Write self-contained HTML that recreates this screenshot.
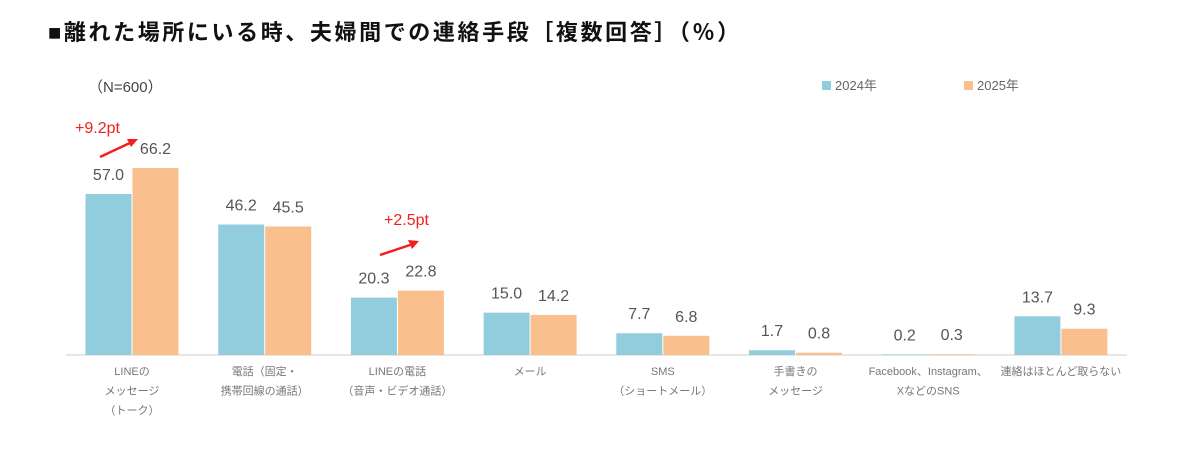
<!DOCTYPE html>
<html><head><meta charset="utf-8"><style>
body{margin:0;background:#fff;width:1194px;height:446px;overflow:hidden;font-family:"Liberation Sans","Noto Sans CJK JP",sans-serif}
</style></head><body>
<svg width="1194" height="446" xmlns="http://www.w3.org/2000/svg">
<text x="48" y="40" font-size="22" font-weight="bold" letter-spacing="2.6" fill="#111">■離れた場所にいる時、夫婦間での連絡手段［複数回答］（％）</text>
<text x="88" y="92" font-size="15" fill="#444">（N=600）</text>
<g>
<rect x="822" y="81" width="9" height="9" fill="#92CDDD"/>
<text x="835" y="90" font-size="13" fill="#666">2024年</text>
<rect x="964" y="81" width="9" height="9" fill="#F9C08E"/>
<text x="977" y="90" font-size="13" fill="#666">2025年</text>
</g>
<line x1="66" y1="355" x2="1127" y2="355" stroke="#ddd" stroke-width="1.5"/>
<g id="bars"></g>
<g>
<text x="75" y="133" font-size="16" fill="#f02020">+9.2pt</text>
<line x1="100" y1="157" x2="132" y2="142" stroke="#f02020" stroke-width="2.5"/>
<polygon points="138,139 127,139 131,147" fill="#f02020"/>
<text x="384" y="225" font-size="16" fill="#f02020">+2.5pt</text>
<line x1="380" y1="255" x2="413" y2="244" stroke="#f02020" stroke-width="2.5"/>
<polygon points="419,241 408,240 412,249" fill="#f02020"/>
</g>
</svg>
<script>
const categories=[["LINEの","メッセージ","（トーク）"],["電話（固定・","携帯回線の通話）"],["LINEの電話","（音声・ビデオ通話）"],["メール"],["SMS","（ショートメール）"],["手書きの","メッセージ"],["Facebook、Instagram、","XなどのSNS"],["連絡はほとんど取らない"]];
const values2024=[57.0,46.2,20.3,15.0,7.7,1.7,0.2,13.7];
const values2025=[66.2,45.5,22.8,14.2,6.8,0.8,0.3,9.3];
const labels2024=["57.0","46.2","20.3","15.0","7.7","1.7","0.2","13.7"];
const labels2025=["66.2","45.5","22.8","14.2","6.8","0.8","0.3","9.3"];
const NS="http://www.w3.org/2000/svg";
const g=document.getElementById('bars');
const base=355,scale=2.825,x0=132,step=132.7,bw=46;
function y(v){return base-v*scale;}
function cx(i){return x0+i*step;}
function mk(t,a){const e=document.createElementNS(NS,t);for(const k in a)e.setAttribute(k,a[k]);g.appendChild(e);return e;}
categories.forEach((c,i)=>{
  [[values2024,labels2024,"#92CDDD",-bw-0.5],[values2025,labels2025,"#F9C08E",0.5]].forEach((s,j)=>{
    const v=s[0][i];
    const r=mk('rect',{x:cx(i)+s[3],y:y(v),width:bw,height:base-y(v),fill:s[2]});
    
    
    const t=mk('text',{x:cx(i)+s[3]+bw/2,y:y(v)-14,'font-size':16,fill:'#555','text-anchor':'middle'});
    t.textContent=s[1][i];
    
    
  });
  c.forEach((line,k)=>{
    const t=mk('text',{x:cx(i),y:375+k*19.5,'font-size':11,fill:'#777','text-anchor':'middle'});
    t.textContent=line;
    
    
  });
});
</script>
</body></html>
